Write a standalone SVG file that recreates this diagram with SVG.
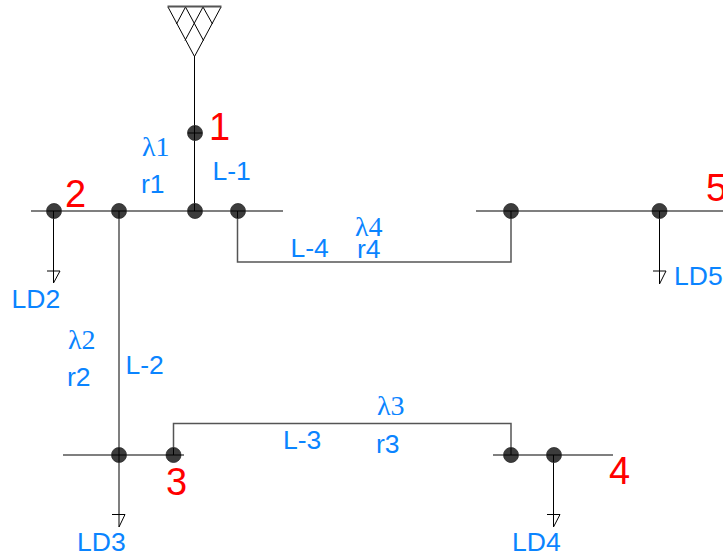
<svg xmlns="http://www.w3.org/2000/svg" width="723" height="556" viewBox="0 0 723 556">
<style>
.w{fill:none;stroke:#000;stroke-width:1;stroke-opacity:.8}
.b{fill:none;stroke:#555;stroke-width:1.500}
.n{fill:#3c3c3c;stroke:#2a2a2a;stroke-width:.8}
.x{fill:none;stroke:#000;stroke-width:1}
.t{font-family:"Liberation Sans",Arial,sans-serif;font-size:26.500px;fill:#0a84ff}
.g{font-family:"Liberation Serif","DejaVu Serif",serif;font-size:28px;fill:#0a84ff}
.r{font-family:"Liberation Sans",Arial,sans-serif;font-size:38px;fill:#f00}
</style>
<rect width="723" height="556" fill="#fff"/>
<g id="connectors">
<path class="b" d="M31 211H283M476 211H723M63 455H184M493 455H613"/>
<path class="b" d="M237.500 211V262H511V211M173.500 455V423.500H511V455"/>
<path class="b" d="M119 211V527"/>
<path class="x" d="M194.500 56V211M53.500 211V283M659.500 211V284M553.500 455V527"/>
</g>
<g id="antenna">
<path class="x" d="M168 7L194.500 56.500L221 7M185.500 7L203.500 40.500M185.500 7L176.500 24M203 7L212.500 24M203 7L185 40.500"/>
<path d="M167.500 6.500H221.500" fill="none" stroke="#555" stroke-width="1.800"/>
</g>
<g id="ground-ld2"><path class="x" d="M47 271H60L53.500 283"/></g>
<g id="ground-ld3"><path class="x" d="M112 514.500H125L119 527"/></g>
<g id="ground-ld4"><path class="x" d="M547 514.500H560L553.500 527"/></g>
<g id="ground-ld5"><path class="x" d="M653 271H666L659.500 284"/></g>
<g id="node-1"><circle class="n" cx="195" cy="133" r="7.500"/><path class="x" d="M188 133H202M194.500 126V140"/><text class="r" x="209" y="140">1</text></g>
<g id="node-2a"><circle class="n" cx="54" cy="211" r="7.500"/><path class="x" d="M47 211H61M53.500 211V218"/><text class="r" x="65" y="207">2</text></g>
<g id="node-2b"><circle class="n" cx="119" cy="211" r="7.500"/><path class="x" d="M112 211H126M119 211V218"/></g>
<g id="node-2c"><circle class="n" cx="195" cy="211" r="7.500"/><path class="x" d="M188 211H202M194.500 204V211"/></g>
<g id="node-2d"><circle class="n" cx="238" cy="211" r="7.500"/><path class="x" d="M231 211H245M237.500 211V218"/></g>
<g id="node-5a"><circle class="n" cx="511" cy="211" r="7.500"/><path class="x" d="M504 211H518M511 211V218"/></g>
<g id="node-5b"><circle class="n" cx="659.500" cy="211" r="7.500"/><path class="x" d="M652 211H667M659.500 211V218"/><text class="r" x="706" y="201">5</text></g>
<g id="node-3a"><circle class="n" cx="119" cy="455" r="7.500"/><path class="x" d="M112 455H126M119 448V462"/></g>
<g id="node-3b"><circle class="n" cx="173.500" cy="455" r="7.500"/><path class="x" d="M166 455H181M173.500 448V455"/><text class="r" x="166" y="495">3</text></g>
<g id="node-4a"><circle class="n" cx="511" cy="455" r="7.500"/><path class="x" d="M504 455H518M511 448V455"/></g>
<g id="node-4b"><circle class="n" cx="554" cy="455" r="7.500"/><path class="x" d="M547 455H561M553.500 455V462"/><text class="r" x="609" y="484">4</text></g>
<g id="labels">
<text class="g" x="142" y="156">λ1</text><text class="t" x="141" y="193">r1</text><text class="t" x="212.500" y="180">L-1</text>
<text class="g" x="68" y="349">λ2</text><text class="t" x="67" y="386">r2</text><text class="t" x="125.500" y="374">L-2</text>
<text class="g" x="377" y="415">λ3</text><text class="t" x="376" y="453">r3</text><text class="t" x="283" y="449">L-3</text>
<text class="g" x="355" y="236">λ4</text><text class="t" x="357" y="258">r4</text><text class="t" x="290.500" y="257">L-4</text>
<text class="t" x="11.500" y="308">LD2</text><text class="t" x="77" y="551">LD3</text><text class="t" x="512" y="551">LD4</text><text class="t" x="674" y="285">LD5</text>
</g>
</svg>
